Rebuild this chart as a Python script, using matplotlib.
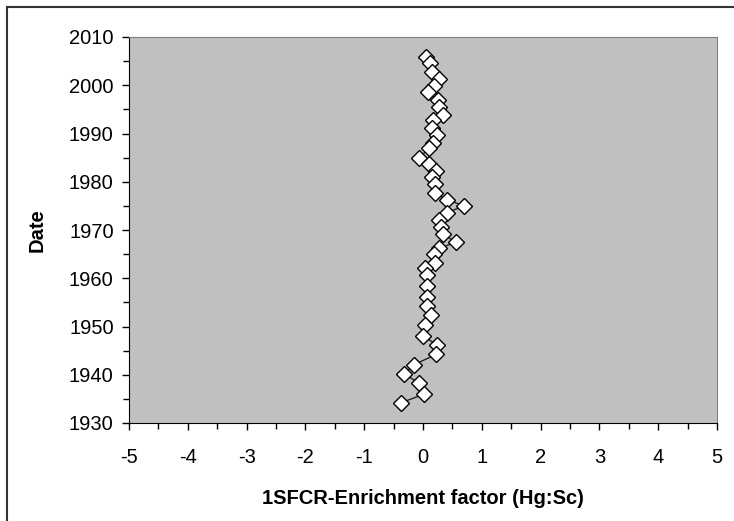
import numpy as np
import matplotlib
matplotlib.use("Agg")
import matplotlib.pyplot as plt
import matplotlib.ticker as tic
from matplotlib.lines import Line2D

# data (year, enrichment factor)
years = [2005.8, 2004.7, 2002.7, 2001.3, 1999.9, 1998.5, 1997.0, 1995.4, 1993.8,
         1992.8, 1991.2, 1989.6, 1988.1, 1986.9, 1985.0, 1983.6, 1982.2, 1981.0,
         1979.5, 1977.7, 1976.3, 1975.0, 1973.6, 1972.0, 1970.7, 1969.1, 1967.5,
         1966.2, 1965.0, 1963.2, 1962.1, 1960.6, 1958.3, 1956.2, 1954.3, 1952.3,
         1950.3, 1948.1, 1946.2, 1944.2, 1942.1, 1940.2, 1938.2, 1936.0, 1934.2]
ef = [0.05, 0.12, 0.15, 0.27, 0.18, 0.09, 0.26, 0.28, 0.34,
      0.17, 0.15, 0.23, 0.17, 0.10, -0.06, 0.10, 0.22, 0.15,
      0.21, 0.20, 0.40, 0.70, 0.41, 0.28, 0.31, 0.34, 0.56,
      0.28, 0.19, 0.21, 0.04, 0.07, 0.07, 0.06, 0.07, 0.14,
      0.03, 0.00, 0.23, 0.22, -0.15, -0.32, -0.06, 0.02, -0.37]

xticks = [-5, -4, -3, -2, -1, 0, 1, 2, 3, 4, 5]
yticks = [1930, 1940, 1950, 1960, 1970, 1980, 1990, 2000, 2010]

plt.rcParams['font.family'] = 'Liberation Sans'
plt.rcParams['font.size'] = 14
plt.rcParams['axes.unicode_minus'] = False

fig = plt.figure(figsize=(7.34, 5.21), dpi=100)
ax = fig.add_axes([129/734, 1-423/521, (717-129)/734, (423-37)/521])
ax.set_facecolor('#C0C0C0')

ax.plot(ef, years, color='#222222', lw=1, marker='D', ms=8.5,
        mfc='white', mec='black', mew=1)

ax.set_xlim(-5, 5)
ax.set_ylim(1930, 2010)
ax.set_xticks(xticks)
ax.set_yticks(yticks)
ax.xaxis.set_minor_locator(tic.MultipleLocator(0.5))
ax.yaxis.set_minor_locator(tic.MultipleLocator(5))
ax.tick_params(which='both', direction='out', color='black', width=1)
ax.tick_params(which='major', length=5, labelsize=14.5)
ax.tick_params(which='minor', length=4)
ax.tick_params(axis='x', which='major', pad=13)
ax.tick_params(axis='y', which='major', pad=6)

for s in ['top', 'right']:
    ax.spines[s].set_color('#808080')
for s in ['left', 'bottom']:
    ax.spines[s].set_color('black')

ax.set_xlabel('1SFCR-Enrichment factor (Hg:Sc)', fontsize=14.5,
              fontweight='bold', labelpad=16)
ax.set_ylabel('Date', fontsize=14.5, fontweight='bold', labelpad=16)

# outer frame (only top and left visible)
fig.add_artist(Line2D([7/734, 7/734], [0, 1-7/521], color='#333333', lw=1.5))
fig.add_artist(Line2D([7/734, 1], [1-7/521, 1-7/521], color='#333333', lw=1.5))

plt.savefig("out.png")
plt.close()
